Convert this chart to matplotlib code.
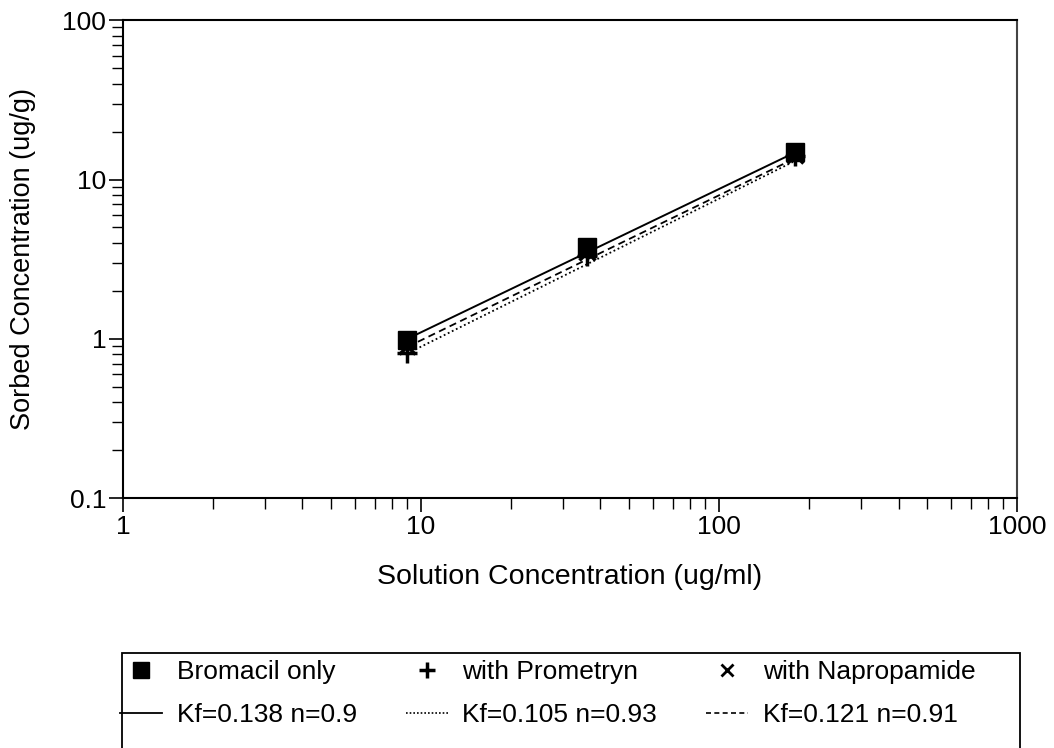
import matplotlib
matplotlib.use("Agg")
from matplotlib import pyplot as plt
from matplotlib.lines import Line2D
from matplotlib.patches import Rectangle
from matplotlib.ticker import FixedLocator, FixedFormatter, LogLocator, NullFormatter

plt.rcParams['font.family'] = ['Liberation Sans', 'DejaVu Sans']

# measured points
solution_conc = [9.0, 36.0, 180.0]
bromacil_only = [0.99, 3.78, 14.9]
with_prometryn = [0.82, 3.3, 14.0]
with_napropamide = [0.9, 3.5, 14.3]

# fitted isotherm lines (end points)
fit_x = [9.0, 180.0]
fit_bromacil = [1.0, 14.8]
fit_prometryn = [0.81, 13.1]
fit_napropamide = [0.89, 13.6]

fit_labels = ["Kf=0.138 n=0.9", "Kf=0.105 n=0.93", "Kf=0.121 n=0.91"]
point_labels = ["Bromacil only", "with Prometryn", "with Napropamide"]

x_ticks = [1, 10, 100, 1000]
y_ticks = [0.1, 1, 10, 100]

fig = plt.figure(figsize=(10.54, 7.48), dpi=100)
ax = fig.add_axes([0.1167, 0.334, 0.8483, 0.639])

ax.plot(fit_x, fit_bromacil, color='black', lw=1.4, ls='-')
ax.plot(fit_x, fit_prometryn, color='black', lw=1.3, ls=(0, (1, 1.5)))
ax.plot(fit_x, fit_napropamide, color='black', lw=1.3, ls=(0, (4, 2.5)))

ax.plot(solution_conc, with_napropamide, ls='none', marker='x', ms=12, mew=2.5, color='black')
ax.plot(solution_conc, with_prometryn, ls='none', marker='+', ms=14, mew=2.5, color='black')
ax.plot(solution_conc, bromacil_only, ls='none', marker='s', ms=13, color='black')

ax.set_xscale('log')
ax.set_yscale('log')
ax.set_xlim(1, 1000)
ax.set_ylim(0.1, 100)

ax.xaxis.set_major_locator(FixedLocator(x_ticks))
ax.xaxis.set_major_formatter(FixedFormatter([str(t) for t in x_ticks]))
ax.yaxis.set_major_locator(FixedLocator(y_ticks))
ax.yaxis.set_major_formatter(FixedFormatter(["0.1", "1", "10", "100"]))
ax.xaxis.set_minor_locator(LogLocator(base=10, subs=range(2, 10)))
ax.yaxis.set_minor_locator(LogLocator(base=10, subs=range(2, 10)))
ax.xaxis.set_minor_formatter(NullFormatter())
ax.yaxis.set_minor_formatter(NullFormatter())

ax.tick_params(which='major', direction='out', length=10, width=1.2, labelsize=19, pad=2)
ax.tick_params(which='minor', direction='out', length=8, width=1.0)
for s in ax.spines.values():
    s.set_linewidth(1.5)
ax.spines['right'].set_color('#444444')

ax.set_xlabel("Solution Concentration (ug/ml)", fontsize=20.5, labelpad=18)
ax.set_ylabel("Sorbed Concentration (ug/g)", fontsize=19.5, labelpad=19)

# legend box runs off the bottom of the page
fig.patches.append(Rectangle((0.1157, -0.05), 0.852, 0.177, transform=fig.transFigure,
                             fill=False, edgecolor='black', lw=1.3))

handles = [
    Line2D([], [], ls='none', marker='s', ms=11, color='black'),
    Line2D([], [], color='black', lw=1.3, ls='-'),
    Line2D([], [], ls='none', marker='+', ms=11, mew=2.5, color='black'),
    Line2D([], [], color='black', lw=1.2, ls=(0, (1, 1.2))),
    Line2D([], [], ls='none', marker='x', ms=9, mew=2, color='black'),
    Line2D([], [], color='black', lw=1.2, ls=(0, (3, 2))),
]
labels = [point_labels[0], fit_labels[0], point_labels[1], fit_labels[1],
          point_labels[2], fit_labels[2]]
fig.legend(handles, labels, ncol=3, loc='upper left', bbox_to_anchor=(0.1139, 0.117),
           frameon=False, fontsize=19, handlelength=1.6, handletextpad=0.55,
           columnspacing=1.85, labelspacing=0.7, borderaxespad=0, borderpad=0)

fig.savefig("out.png", dpi=100)
